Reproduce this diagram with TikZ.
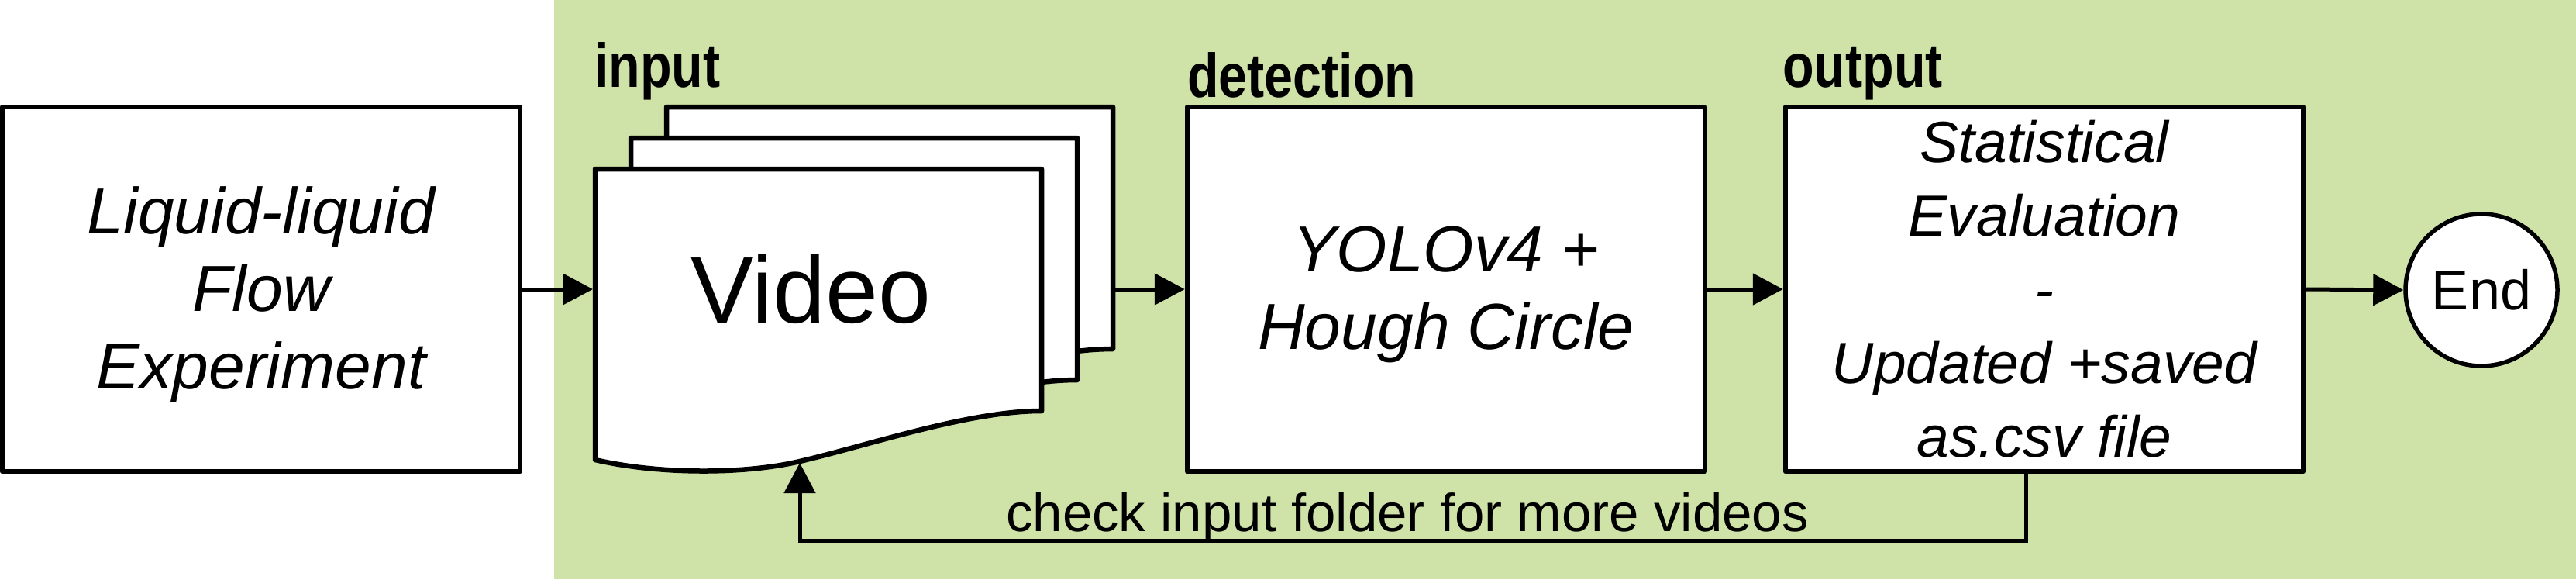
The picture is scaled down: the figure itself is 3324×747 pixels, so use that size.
\documentclass[tikz,border=0pt]{standalone}
\usepackage{fontspec}
\setmainfont{Liberation Sans}
\newfontfamily\labelfont[FakeStretch=0.83]{Liberation Sans}
\usetikzlibrary{arrows.meta}
\definecolor{bggreen}{RGB}{207,226,167}
\tikzset{
  box/.style={draw, line width=6.5pt, fill=white, minimum width=668pt, minimum height=470pt, inner sep=0pt, align=center, line join=round},
  docshape/.style={draw, line width=6.5pt, fill=white, line join=round},
  conn/.style={line width=5pt, -{Triangle[length=39pt,width=40pt]}},
  steplabel/.style={anchor=base west, inner sep=0pt, font=\labelfont\bfseries\fontsize{80}{80}\selectfont},
  boxtext/.style={align=center, inner sep=0pt, font=\itshape\fontsize{84}{100}\selectfont},
}
\begin{document}
\begin{tikzpicture}[x=1pt,y=-1pt]
\useasboundingbox (0,0) rectangle (3324,747);
\fill[bggreen] (715,0) rectangle (3324,747);

% stacked documents
\foreach \dx/\dy in {92/-80, 46/-40, 0/0}{
  \begin{scope}[shift={(\dx,\dy)}]
    \draw[docshape] (768,218) -- (1344,218) -- (1344,530)
      .. controls (1250,530) and (1122,574) .. (1032,595)
      .. controls (960,612) and (850,612) .. (768,593) -- cycle;
  \end{scope}
}
\node[inner sep=0pt, font=\fontsize{122}{122}\selectfont] (video) at (1046,373) {Video};
\coordinate (docL) at (765,373);
\coordinate (docR) at (1439,373);
\coordinate (docB) at (1032,597);

% boxes
\node[box] (exp) at (337,373) {};
\node[boxtext] (exptext) at (337,380) {Liquid-liquid\\Flow\\Experiment};
\node[box] (det) at (1866,373) {};
\node[boxtext] (dettext) at (1866,380) {YOLOv4 +\\Hough Circle};
\node[box, font=\itshape\fontsize{75}{95}\selectfont] (out) at (2638,373) {Statistical\\Evaluation\\-\\Updated +saved\\as.csv file};
\node[draw, circle, line width=5.5pt, fill=white, minimum size=196pt, inner sep=0pt, font=\fontsize{72}{72}\selectfont] (end) at (3202,374) {End};

% labels
\node[steplabel] (linput) at (767,112) {input};
\node[steplabel] (ldet) at (1532,125) {detection};
\node[steplabel] (lout) at (2300,112) {output};

% connectors
\draw[conn] (exp.east) -- (docL);
\draw[conn] (docR) -- (det.west);
\draw[conn] (det.east) -- (out.west);
\draw[conn] (out.east) -- (end.west);
\coordinate (fb) at (2614,697);
\draw[conn] (fb |- out.south) -- (fb) -- (fb -| docB) -- (docB);
\node[anchor=base, inner sep=0pt, font=\fontsize{69}{69}\selectfont] (fbtext) at (1816,685) {check input folder for more videos};
\end{tikzpicture}
\end{document}
